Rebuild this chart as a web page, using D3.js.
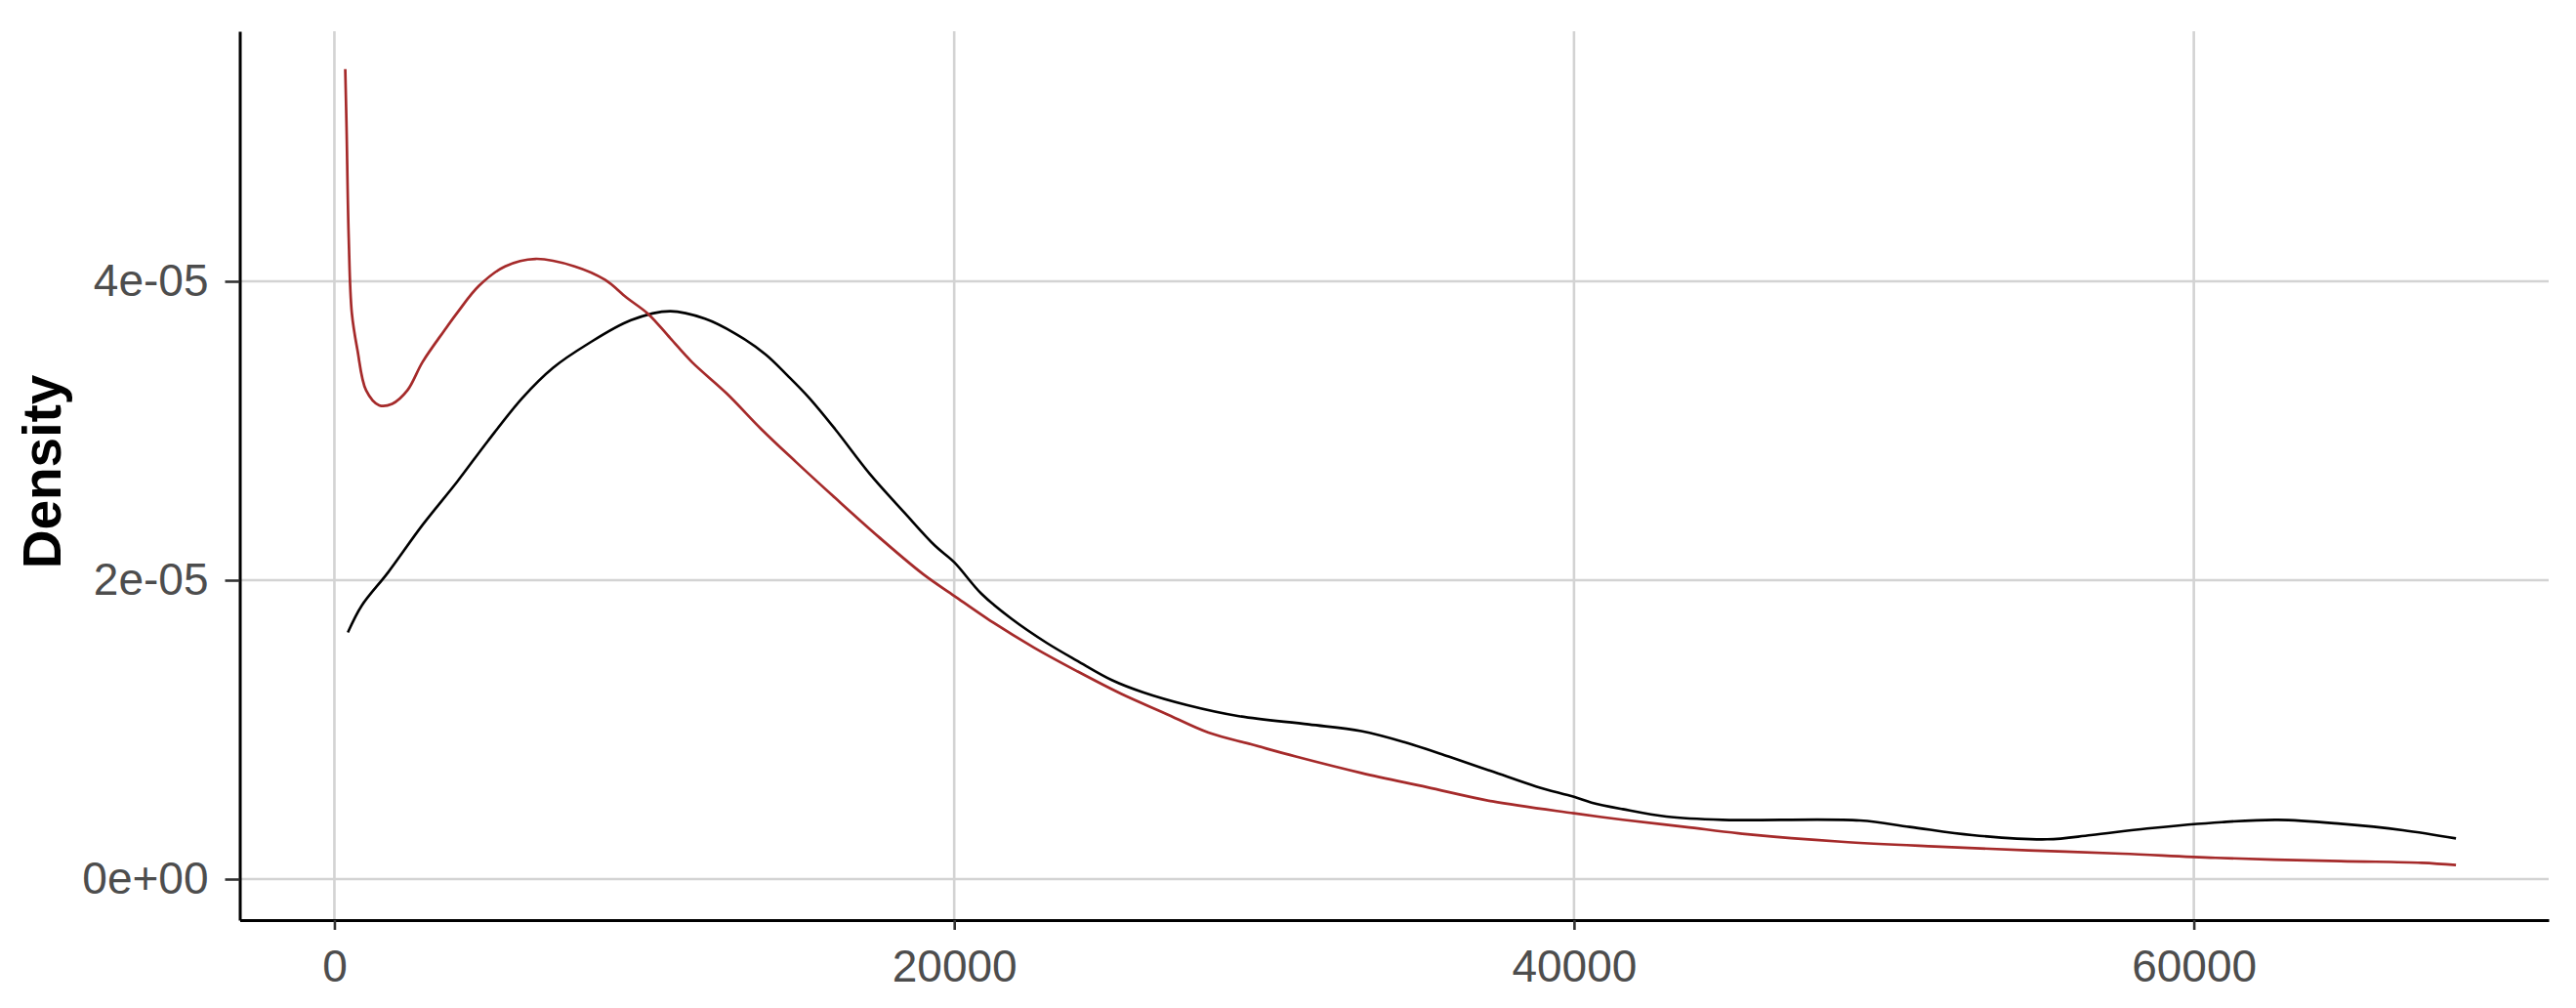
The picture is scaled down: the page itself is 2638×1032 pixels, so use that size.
<script src="https://d3js.org/d3.v7.min.js"></script>

<style>
  html, body { margin: 0; padding: 0; background: #fff; overflow: hidden; width: 100%; height: 100%; }
  svg { display: block; width: 100vw; height: 100vh; }
  text { font-family: "Liberation Sans", Arial, sans-serif; }
</style>

<body>
  <svg viewBox="0 0 2638 1032" preserveAspectRatio="xMidYMid meet"></svg>
</body>

<script>
  // density curves (x = value, y = density)
  const redX = [350, 392, 462, 561, 743, 1023, 1444, 1864, 2355, 2845, 3546, 3966, 4667, 5508, 6489, 7750, 8731, 9432, 10133, 10834, 11535, 12656, 13778, 14899, 16160, 17561, 19000, 20000, 21156, 22565, 23974, 25384, 26793, 28203, 29612, 31021, 33136, 35250, 37364, 40000, 41571, 43585, 45599, 48620, 51641, 54662, 57683, 60705, 64733, 67351, 68459];
  const redY = [54.2, 50.3, 42.9, 37.9, 35.4, 32.7, 31.7, 31.8, 32.7, 34.6, 36.7, 37.9, 39.7, 41.0, 41.5, 41.0, 40.1, 38.9, 37.8, 36.2, 34.6, 32.5, 30.1, 27.9, 25.5, 22.9, 20.4, 18.95, 17.3, 15.5, 13.9, 12.4, 11.1, 9.8, 9.0, 8.2, 7.1, 6.15, 5.2, 4.4, 3.97, 3.49, 3.0, 2.5, 2.18, 1.92, 1.7, 1.42, 1.2, 1.09, 0.94].map(v => v * 1e-6);

  const blackX = [434, 883, 1724, 2845, 3966, 4947, 6068, 7049, 8170, 9572, 10834, 11956, 12937, 13917, 14618, 15319, 16160, 17281, 18402, 19383, 20000, 20874, 21860, 22988, 23974, 25102, 26089, 27498, 29189, 31444, 33136, 34545, 35955, 37364, 38774, 40000, 40564, 41571, 42981, 44793, 49225, 50836, 52850, 55267, 56677, 58489, 60906, 62719, 64733, 66747, 68459];
  const blackY = [16.5, 18.3, 20.5, 23.7, 26.6, 29.3, 32.2, 34.2, 35.8, 37.4, 38.0, 37.5, 36.5, 35.1, 33.7, 32.2, 30.1, 27.1, 24.5, 22.3, 21.2, 19.1, 17.4, 15.8, 14.6, 13.3, 12.5, 11.65, 10.9, 10.35, 9.9, 9.15, 8.2, 7.2, 6.2, 5.5, 5.12, 4.68, 4.18, 3.96, 3.92, 3.49, 2.94, 2.66, 2.94, 3.38, 3.81, 3.96, 3.7, 3.27, 2.72].map(v => v * 1e-6);

  const xTicks = [0, 20000, 40000, 60000];
  const xTickLabels = ["0", "20000", "40000", "60000"];
  const yTicks = [0, 2e-5, 4e-5];
  const yTickLabels = ["0e+00", "2e-05", "4e-05"];

  const svg = d3.select('svg');
  const width = 2638;
  const height = 1032;

  const margin = {top: 32, left: 245.5, bottom: 90, right: 28};
  const innerWidth = width - margin.left - margin.right;
  const innerHeight = height - margin.top - margin.bottom;

  const xScale = d3.scaleLinear()
    .domain([-3055, 71450])
    .range([0, innerWidth]);

  const yScale = d3.scaleLinear()
    .domain([-2.745e-6, 5.673e-5])
    .range([innerHeight, 0]);

  const g = svg.append('g')
    .attr('transform', `translate(${margin.left},${margin.top})`);

  // grid
  g.selectAll('.vgrid').data(xTicks)
    .enter().append('line')
    .attr('x1', d => xScale(d)).attr('x2', d => xScale(d))
    .attr('y1', 0).attr('y2', innerHeight)
    .attr('stroke', '#d3d3d3').attr('stroke-width', 2.6);

  g.selectAll('.hgrid').data(yTicks)
    .enter().append('line')
    .attr('x1', 0).attr('x2', innerWidth)
    .attr('y1', d => yScale(d)).attr('y2', d => yScale(d))
    .attr('stroke', '#d3d3d3').attr('stroke-width', 2.6);

  // curves
  const lineGen = d3.line()
    .x(d => xScale(d[0]))
    .y(d => yScale(d[1]))
    .curve(d3.curveCatmullRom.alpha(0.5));

  g.append('path')
    .datum(blackX.map((x, i) => [x, blackY[i]]))
    .attr('d', lineGen)
    .attr('fill', 'none')
    .attr('stroke', '#000')
    .attr('stroke-width', 2.6);

  g.append('path')
    .datum(redX.map((x, i) => [x, redY[i]]))
    .attr('d', lineGen)
    .attr('fill', 'none')
    .attr('stroke', '#a52a2a')
    .attr('stroke-width', 2.7);

  // axes
  const xAxis = d3.axisBottom(xScale)
    .tickValues(xTicks)
    .tickFormat((d, i) => xTickLabels[i])
    .tickSize(10).tickSizeOuter(0).tickPadding(20);

  const yAxis = d3.axisLeft(yScale)
    .tickValues(yTicks)
    .tickFormat((d, i) => yTickLabels[i])
    .tickSize(15).tickSizeOuter(0).tickPadding(17);

  const xg = g.append('g')
    .attr('transform', `translate(0,${innerHeight})`)
    .call(xAxis);

  const yg = g.append('g').call(yAxis);

  [xg, yg].forEach(a => {
    a.select('.domain').attr('stroke', '#000').attr('stroke-width', 3);
    a.selectAll('.tick line').attr('stroke', '#333').attr('stroke-width', 2.6);
    a.selectAll('.tick text')
      .attr('fill', '#4d4d4d')
      .style('font-size', '46px')
      .style('font-family', '"Liberation Sans", Arial, sans-serif');
  });

  svg.append('text')
    .attr('transform', `translate(62,483) rotate(-90)`)
    .attr('text-anchor', 'middle')
    .style('font-size', '55px')
    .style('font-weight', 'bold')
    .attr('fill', '#000')
    .text('Density');

</script>
